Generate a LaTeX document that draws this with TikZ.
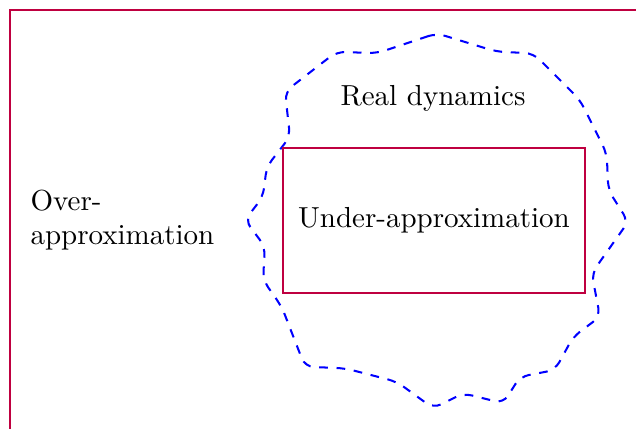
\documentclass[tikz,border=0pt]{standalone}
\usepackage{tikz}
\usetikzlibrary{positioning}

\begin{document}
\begin{tikzpicture}[
    x=0.345pt, y=-0.345pt,
    region/.style={draw=purple, line width=0.7pt},
    realset/.style={draw=blue, dashed, line width=0.7pt, rounded corners=3pt},
    lbl/.style={align=left, inner sep=0pt}
]
\useasboundingbox (0,0) rectangle (636,429);

% ---- Over-approximation (outer set) ----
\draw[region] (10,500) -- (10,10) -- (700,10);
\node[lbl] (overlbl) at (30,220) [anchor=west] {Over-\\approximation};

% ---- Real dynamics (wavy set) ----
\draw[realset] (436.7,33.3) -- (376.7,53.3) -- (336.7,51.7) -- (285,91.7) -- (290,136.7)
    -- (266.7,166.7) -- (263,196.7) -- (245,220) -- (265,246.7) -- (263,280)
    -- (281.7,306.7) -- (305,366.7) -- (345,368.3) -- (396.7,381.7) -- (433.3,408.3)
    -- (463.3,393.3) -- (503.3,403.3) -- (520,376.7) -- (555,370) -- (573.3,336.7)
    -- (600,316.7) -- (591.7,273.3) -- (628.3,221.7) -- (608.3,190) -- (606.7,153.3)
    -- (580,100) -- (533.3,53.3) -- (496.7,51.7) -- cycle;
\node (reallbl) at (433,98) {Real dynamics};

% ---- Under-approximation (inner set) ----
\node[region, minimum width=302*0.345pt, minimum height=145*0.345pt] (under) at (434,220.5) {Under-approximation};

\end{tikzpicture}
\end{document}
